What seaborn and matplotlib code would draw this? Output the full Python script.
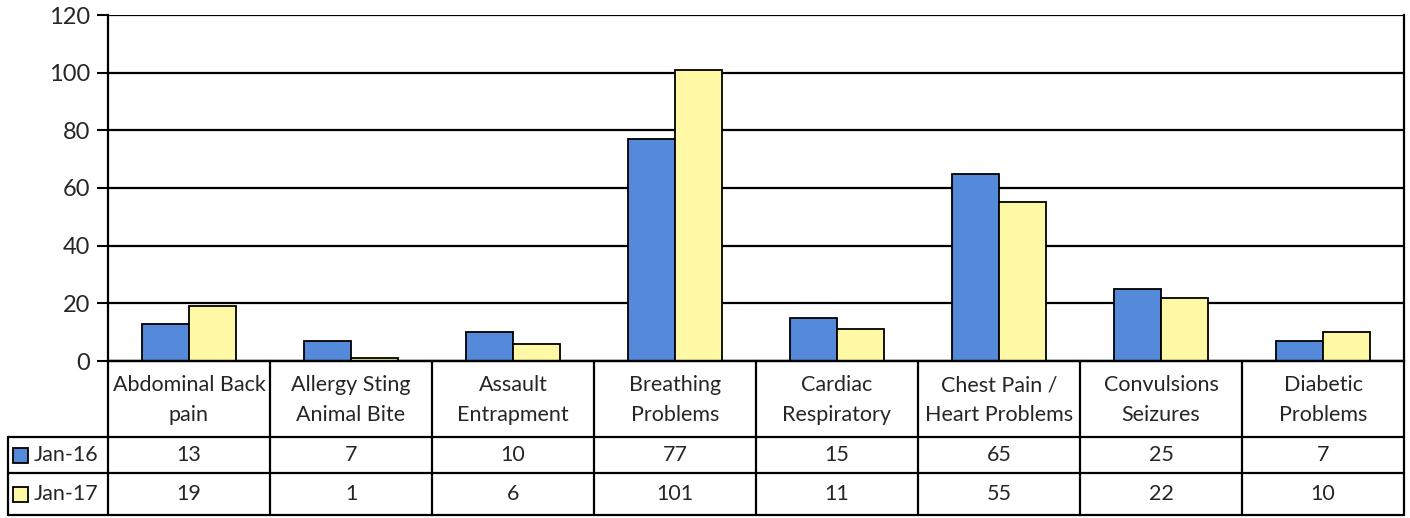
import numpy as np
import pandas as pd
import matplotlib
matplotlib.use("Agg")
import matplotlib.pyplot as plt
from matplotlib.patches import Rectangle
import seaborn as sns

# 数据
categories = ["Abdominal Back\npain", "Allergy Sting\nAnimal Bite", "Assault\nEntrapment",
              "Breathing\nProblems", "Cardiac\nRespiratory", "Chest Pain /\nHeart Problems",
              "Convulsions\nSeizures", "Diabetic\nProblems"]
jan16 = [13, 7, 10, 77, 15, 65, 25, 7]
jan17 = [19, 1, 6, 101, 11, 55, 22, 10]
series = ["Jan-16", "Jan-17"]
colors = ["#5589DA", "#FFF9A6"]

df = pd.DataFrame({
    "cat": list(range(len(categories))) * 2,
    "period": [series[0]] * len(jan16) + [series[1]] * len(jan17),
    "value": jan16 + jan17,
})

sns.set_style("white")
plt.rcParams["font.family"] = ["Lato", "DejaVu Sans"]

W, H = 1410, 518
fig = plt.figure(figsize=(W / 100, H / 100), dpi=100)
L, R, T, B0 = 108, 1404, 15, 361
ax = fig.add_axes([L / W, (H - B0) / H, (R - L) / W, (B0 - T) / H])

sns.barplot(data=df, x="cat", y="value", hue="period", palette=colors,
            width=0.58, edgecolor="black", linewidth=1.3, legend=False, ax=ax,
            saturation=1)
ax.set_xlim(-0.5, len(categories) - 0.5)
ax.set_ylim(0, 120)
ax.set_yticks(np.arange(0, 121, 20))
ax.yaxis.grid(True, color="black", linewidth=1.6)
ax.set_axisbelow(True)
ax.set_xticks([])
ax.set_xlabel("")
ax.set_ylabel("")
ax.tick_params(axis="y", labelsize=17, length=8, width=1.5, color="black", left=True, pad=5)
for s in ["left", "right", "bottom"]:
    ax.spines[s].set_visible(True)
    ax.spines[s].set_color("black")
    ax.spines[s].set_linewidth(1.6)
ax.spines["top"].set_visible(False)

# 数据表
B1 = 515
tab = fig.add_axes([L / W, (H - B1) / H, (R - L) / W, (B1 - B0) / H])
tab.set_xlim(-0.5, len(categories) - 0.5)
tab.set_ylim(B1 - B0, 0)
tab.axis("off")
colw = (R - L) / len(categories)
x_left = -0.5 - (L - 8) / colw
r1, r2, r3 = 76, 112, B1 - B0
kw = dict(color="black", linewidth=1.6, clip_on=False)
for i in range(len(categories) + 1):
    tab.plot([i - 0.5, i - 0.5], [0, r3], **kw)
tab.plot([-0.5, 7.5], [0, 0], **kw)
for y in [r1, r2, r3]:
    tab.plot([x_left, 7.5], [y, y], **kw)
tab.plot([x_left, x_left], [r1, r3], **kw)

fs = 15.5
for i, c in enumerate(categories):
    tab.text(i, r1 / 2 + 1, c, ha="center", va="center", fontsize=fs, linespacing=1.6)
    tab.text(i, (r1 + r2) / 2, str(jan16[i]), ha="center", va="center", fontsize=fs)
    tab.text(i, (r2 + r3) / 2, str(jan17[i]), ha="center", va="center", fontsize=fs)

for k, (name, col, yc) in enumerate(zip(series, colors, [(r1 + r2) / 2, (r2 + r3) / 2])):
    sq = 15 / colw
    tab.add_patch(Rectangle((x_left + 5 / colw, yc - 7.5), sq, 15, facecolor=col,
                            edgecolor="black", linewidth=1.3, clip_on=False))
    tab.text(x_left + 26 / colw, yc, name, ha="left", va="center", fontsize=fs)

fig.savefig("out.png", dpi=100)
